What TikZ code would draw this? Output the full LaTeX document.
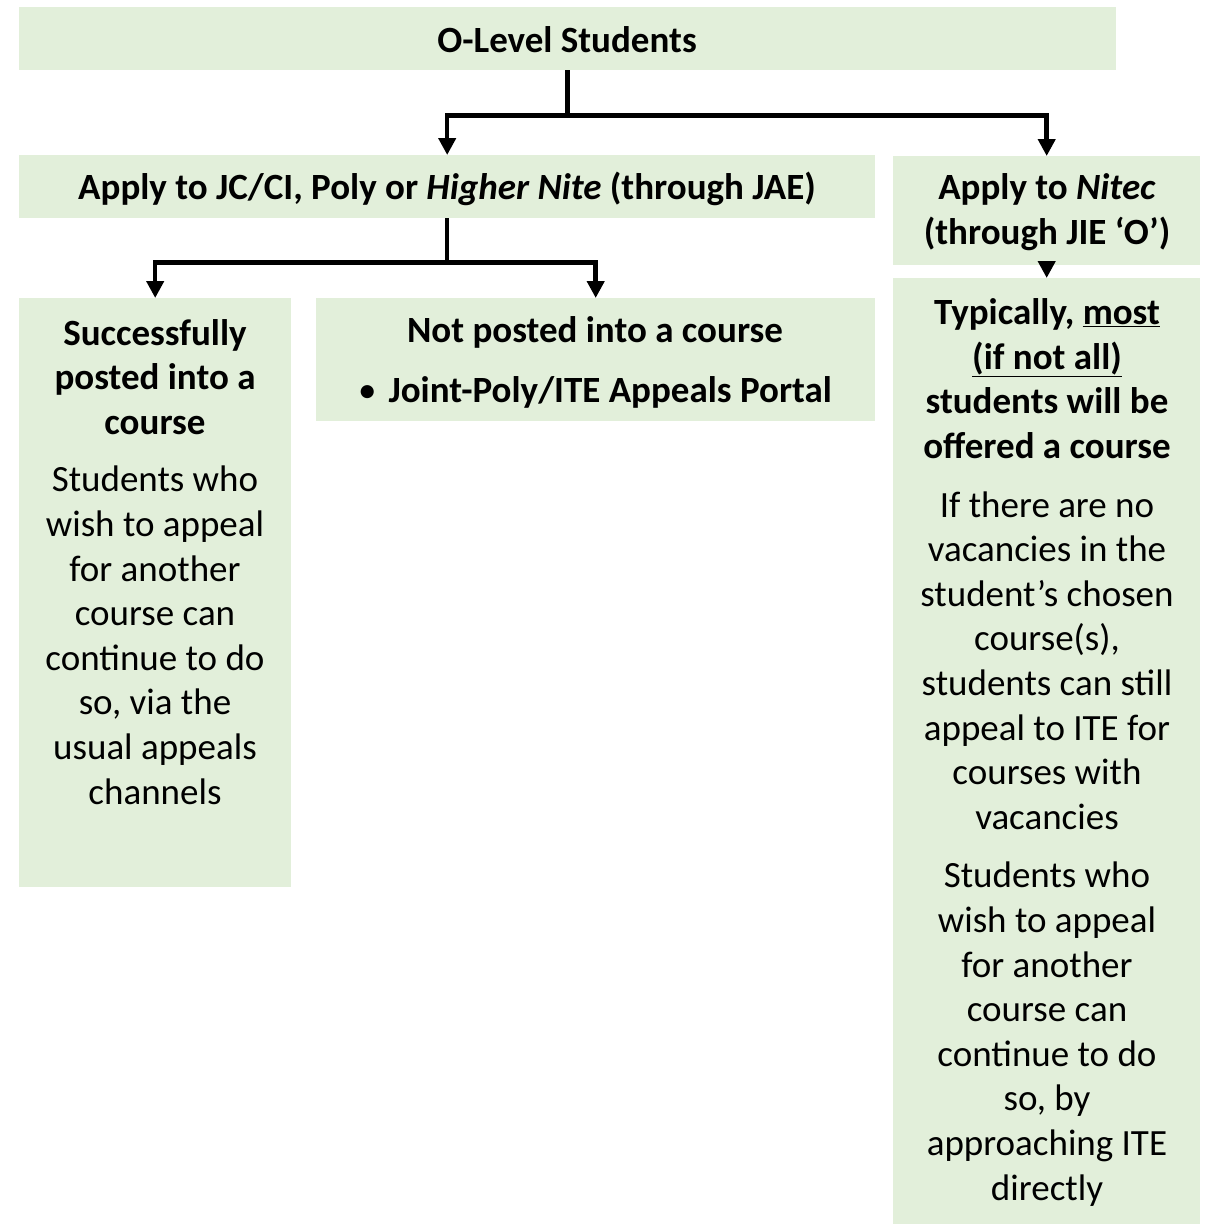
\documentclass[tikz,border=0pt]{standalone}
\usepackage{fontspec}
\setmainfont{Carlito}
\usetikzlibrary{arrows.meta}
\definecolor{boxgreen}{HTML}{E2EFDA}
\tikzset{
  box/.style={fill=boxgreen, inner sep=0pt, anchor=north west},
  txt/.style={align=center, inner sep=0pt, anchor=base, font=\fontsize{37}{44.6}\selectfont},
  link/.style={line width=4.5pt, -{Triangle[width=17pt,length=17pt]}},
}
\begin{document}
\begin{tikzpicture}[x=1pt, y=-1pt, line join=miter]
\useasboundingbox (0,0) rectangle (1212,1224);
% boxes
\node[box, minimum width=1097pt, minimum height=63pt] (top) at (19,7) {};
\node[box, minimum width=856pt, minimum height=63pt] (jae) at (19,155) {};
\node[box, minimum width=307pt, minimum height=109pt] (nitec) at (893,156) {};
\node[box, minimum width=307pt, minimum height=946pt] (typ) at (893,278) {};
\node[box, minimum width=272pt, minimum height=589pt] (succ) at (19,298) {};
\node[box, minimum width=559pt, minimum height=123pt] (fail) at (316,298) {};
% texts (anchored at the baseline of their last line)
\node[txt] (topt) at (567,52) {\bfseries O-Level Students};
\node[txt] (jaet) at (447,199) {\bfseries Apply to JC/CI, Poly or \textit{Higher Nite} (through JAE)};
\node[txt] (nitect) at (1047,244) {\bfseries Apply to \textit{Nitec}\\\bfseries (through JIE ‘O’)};
\node[txt] (typt) at (1047,1200) {\bfseries Typically, \underline{most}\\\bfseries\underline{(if not all)}\\\bfseries students will be\\\bfseries offered a course\\[14pt]
  If there are no\\vacancies in the\\student’s chosen\\course(s),\\students can still\\appeal to ITE for\\courses with\\vacancies\\[14pt]
  Students who\\wish to appeal\\for another\\course can\\continue to do\\so, by\\approaching ITE\\directly};
\node[txt] (succt) at (155,804) {\bfseries Successfully\\\bfseries posted into a\\\bfseries course\\[13pt]
  Students who\\wish to appeal\\for another\\course can\\continue to do\\so, via the\\usual appeals\\channels};
\node[txt] (failt) at (595,402) {\bfseries Not posted into a course\\[15pt]{\mdseries •}\hspace{12pt}\bfseries Joint-Poly/ITE Appeals Portal};
% connectors
\draw[link] (top.south) -- ++(0,45) -| (jae.north);
\draw[link] (top.south) -- ++(0,45) -| (nitec.north);
\draw[link] (jae.south) -- ++(0,44) -| (succ.north);
\draw[link] (jae.south) -- ++(0,44) -| (fail.north);
\draw[link] (nitec.south) -- (typ.north);
\end{tikzpicture}
\end{document}
